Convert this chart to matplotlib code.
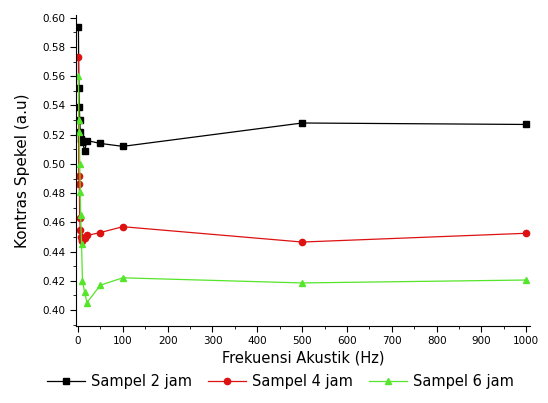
import matplotlib
matplotlib.use('Agg')
import matplotlib.pyplot as plt
from matplotlib.ticker import MultipleLocator

plt.rcParams['font.family'] = ['DejaVu Sans']

frekuensi = [1, 2, 3, 4, 5, 6, 8, 10, 15, 20, 50, 100, 500, 1000]
sampel_2 = [0.594, 0.552, 0.539, 0.530, 0.522, 0.517, 0.516, 0.515, 0.509, 0.516, 0.514, 0.512, 0.528, 0.527]
sampel_4 = [0.573, 0.492, 0.486, 0.463, 0.455, 0.450, 0.448, 0.447, 0.449, 0.451, 0.453, 0.457, 0.4465, 0.4525]
sampel_6 = [0.560, 0.530, 0.522, 0.500, 0.481, 0.465, 0.445, 0.420, 0.412, 0.405, 0.417, 0.422, 0.4185, 0.4205]

fig = plt.figure(figsize=(5.48, 4.03), dpi=100)
ax = fig.add_axes([0.139, 0.191, 0.828, 0.772])

ax.plot(frekuensi, sampel_2, color='black', marker='s', markersize=4.5, lw=0.9, label='Sampel 2 jam')
ax.plot(frekuensi, sampel_4, color='#dd1111', marker='o', markersize=4.5, lw=0.9, label='Sampel 4 jam')
ax.plot(frekuensi, sampel_6, color='#55e52a', marker='^', markersize=5, lw=0.9, label='Sampel 6 jam')

ax.set_xlim(-4, 1008)
ax.set_ylim(0.389, 0.602)
ax.xaxis.set_major_locator(MultipleLocator(100))
ax.xaxis.set_minor_locator(MultipleLocator(50))
ax.yaxis.set_major_locator(MultipleLocator(0.02))
ax.yaxis.set_minor_locator(MultipleLocator(0.01))
ax.yaxis.set_major_formatter(plt.FormatStrFormatter('%.2f'))
ax.tick_params(which='major', direction='out', length=4, labelsize=7.5)
ax.tick_params(which='minor', direction='out', length=2)
ax.spines['top'].set_visible(False)
ax.spines['right'].set_visible(False)

ax.set_xlabel('Frekuensi Akustik (Hz)', fontsize=10.5, labelpad=3)
ax.set_ylabel('Kontras Spekel (a.u)', fontsize=11, labelpad=9)

ax.legend(loc='upper center', bbox_to_anchor=(0.45, -0.135), ncol=3, frameon=False,
          fontsize=10.5, handlelength=2.6, columnspacing=1.1, handletextpad=0.4,
          borderaxespad=0)

fig.savefig('out.png', dpi=100)
